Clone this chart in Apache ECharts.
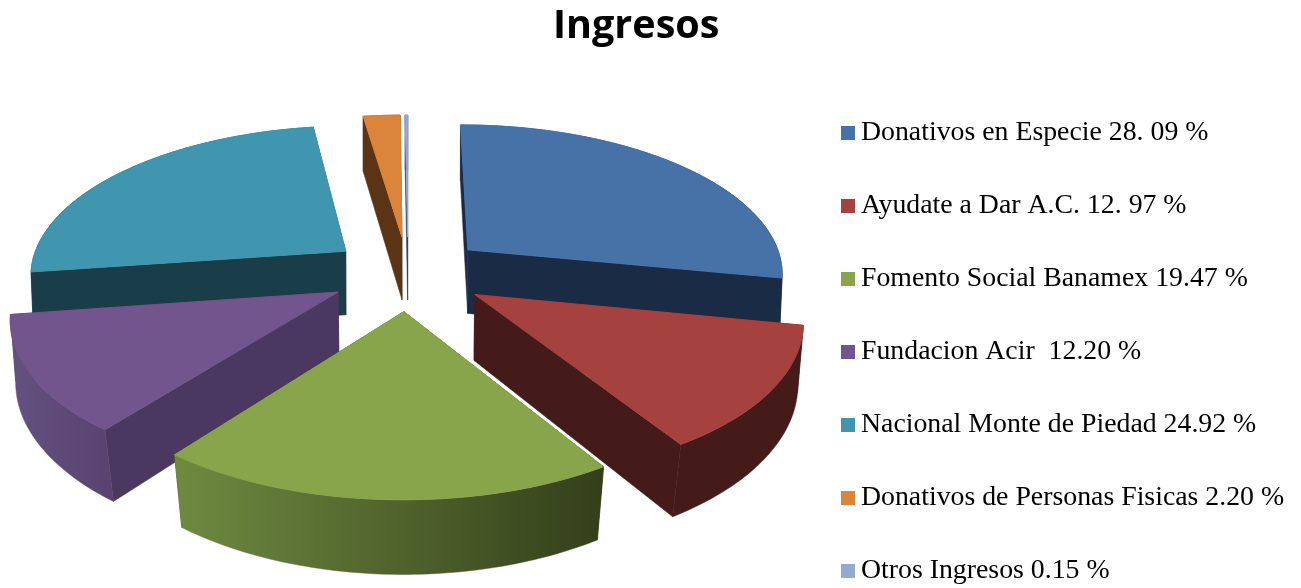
<!DOCTYPE html>
<html><head><meta charset="utf-8">
<style>html,body{margin:0;padding:0;background:#fff}#c{width:1301px;height:588px}</style>
<script src="https://cdn.jsdelivr.net/npm/echarts@6/dist/echarts.min.js"></script>
</head><body><div id="c"></div>
<script>
const categories = ['Donativos en Especie 28. 09 %','Ayudate a Dar A.C. 12. 97 %','Fomento Social Banamex 19.47 %','Fundacion Acir  12.20 %','Nacional Monte de Piedad 24.92 %','Donativos de Personas Fisicas 2.20 %','Otros Ingresos 0.15 %'];
const shares = [28.09, 12.97, 19.47, 12.20, 24.92, 2.20, 0.15];
const topColors = ['#4672A8','#A5413F','#88A54C','#71558C','#4096AE','#DA843C','#93A9CF'];
const wallColors = ['#1A2C45','#451B1A','#384019','#4A3860','#1A3D4A','#5A3414','#2B3A55'];
const arcGradients = [null,null,['#6F8A40','#333F1A'],['#655180','#574270'],null,null,null];
const drawRank = [3,5,6,4,2,0,1];

const CX=408, CY=273, RX=317, RY=149, DIST=6.98, EXPLODE=0.25, DEPTH=65;
const total = shares.reduce((a,b)=>a+b,0);
const starts = []; shares.reduce((a,v,i)=>{starts[i]=a; return a+v;},0);
function proj(X,Y,low){
  const s=DIST/(DIST-Y);
  if(!low) return [CX+RX*X*s, CY+RY*Y*s];
  const kx=Math.min(0.998,0.993-0.023*Y), ky=Y>0?0.98:1;
  return [CX+RX*X*s*kx, CY+RY*Y*s*ky+DEPTH*s];
}
function render(i){
  return function(params,api){
    const value=api.value(0);
    const a0=starts[i]/total*2*Math.PI, a1=a0+value/total*2*Math.PI, m=(a0+a1)/2;
    const ox=EXPLODE*Math.sin(m), oy=-EXPLODE*Math.cos(m);
    const top=[], low=[];
    const n=Math.max(2,Math.ceil((a1-a0)/0.02));
    for(let j=0;j<=n;j++){
      const t=a0+(a1-a0)*j/n, X=ox+Math.sin(t), Y=oy-Math.cos(t);
      top.push(proj(X,Y,false)); low.push(proj(X,Y,true));
    }
    const aT=proj(ox,oy,false), aL=proj(ox,oy,true);
    const face=(pts,fill,lw)=>({type:'polygon',shape:{points:pts},style:{fill:fill,stroke:fill,lineWidth:lw||0.5}});
    const xs=top.concat(low).map(p=>p[0]);
    let arcFill=wallColors[i];
    if(arcGradients[i]){
      arcFill=new echarts.graphic.LinearGradient(Math.min(...xs),0,Math.max(...xs),0,
        [{offset:0,color:arcGradients[i][0]},{offset:1,color:arcGradients[i][1]}],true);
    }
    return {type:'group',children:[
      face([aT,top[0],low[0],aL],wallColors[i]),
      face([aT,top[n],low[n],aL],wallColors[i]),
      face(top.concat(low.slice().reverse()),arcFill),
      face([aT].concat(top),topColors[i],1)
    ]};
  };
}
const series = categories.map((name,i)=>({
  type:'custom',name:name,coordinateSystem:'none',z:2+drawRank[i],
  itemStyle:{color:topColors[i]},
  renderItem:render(i),data:[[shares[i]]],silent:true,animation:false
}));
const chart = echarts.init(document.getElementById('c'),null,{renderer:'canvas'});
chart.setOption({
  animation:false,backgroundColor:'#fff',
  title:{text:'Ingresos',top:2,left:548,
    textStyle:{fontFamily:'"Open Sans"',fontWeight:'bold',fontSize:39.5,color:'#000'}},
  legend:{orient:'vertical',left:841,top:119,padding:0,itemWidth:14,itemHeight:14,itemGap:45,
    icon:'rect',data:categories,selectedMode:false,
    textStyle:{fontFamily:'"Liberation Serif"',fontSize:27.8,color:'#000',padding:[0,0,0,1]}},
  series:series
});
</script></body></html>
